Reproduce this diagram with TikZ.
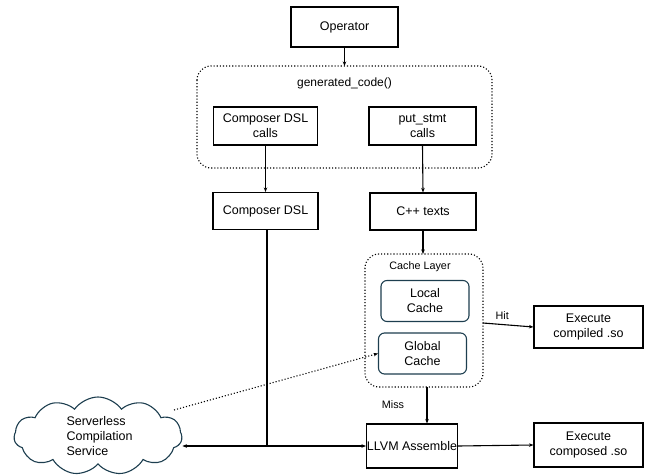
\documentclass[tikz,border=0pt]{standalone}
\usepackage{fontspec}
\setmainfont{Liberation Sans}
\usetikzlibrary{arrows.meta,shapes.symbols}
\definecolor{tealdark}{HTML}{1D3E4F}
\begin{document}
\begin{tikzpicture}[x=1pt,y=-1pt,
  box/.style={draw=black,line width=1.1pt,align=center,font=\fontsize{12.5}{15}\selectfont,inner sep=0pt},
  cachebox/.style={draw=tealdark,line width=1.1pt,rounded corners=6pt,align=center,font=\fontsize{12.5}{15}\selectfont,inner sep=0pt,minimum width=88pt,minimum height=41pt},
  group/.style={draw=black,dotted,line width=1.1pt,rounded corners=14pt},
  small/.style={font=\fontsize{10.8}{13}\selectfont},
  arr/.style={-{Stealth[length=4.5pt,width=3.5pt]},line width=1.1pt},
  dotarr/.style={-{Stealth[length=4.5pt,width=3.5pt]},dotted,line width=1.1pt}]
\useasboundingbox (0,0) rectangle (651,476);

% top of the flow
\node[box,minimum width=107pt,minimum height=40pt] (op) at (344.5,27) {Operator};

% generated_code() group
\draw[group] (197,66) rectangle (492,168);
\coordinate (gtop) at (344.5,66);
\node[small,font=\fontsize{12}{14}\selectfont] (glabel) at (344.5,83) {generated\_code()};
\node[box,minimum width=104pt,minimum height=38pt] (dslcalls) at (265.5,126) {Composer DSL\\calls};
\node[box,minimum width=107pt,minimum height=38pt] (putcalls) at (422.5,126) {put\_stmt\\calls};

\node[box,minimum width=105pt,minimum height=37pt] (dsl) at (265.5,211) {Composer DSL};
\node[box,minimum width=106pt,minimum height=37pt] (cpp) at (423,211.5) {C++ texts};

% cache layer group
\draw[group] (365,254) rectangle (483,387);
\coordinate (ctop) at (423,254);
\coordinate (cright) at (483,323);
\coordinate (cbottom) at (427,387);
\node[small] (clabel) at (420,267) {Cache Layer};
\node[cachebox] (local) at (425,301) {Local\\Cache};
\node[cachebox] (global) at (422.5,353.5) {Global\\Cache};

\node[box,minimum width=109pt,minimum height=42pt] (execc) at (588.5,327) {Execute\\compiled .so};
\node[box,minimum width=91pt,minimum height=44pt] (llvm) at (412,446) {LLVM Assemble};
\node[box,minimum width=109pt,minimum height=44pt] (execp) at (588.5,445) {Execute\\composed .so};

% serverless compilation service
\node[cloud,cloud puffs=11,cloud puff arc=110,aspect=2.2,draw=tealdark,line width=1.1pt,
      minimum width=168pt,minimum height=78pt,inner sep=0pt] (cloud) at (98,436) {};
\node[align=left,font=\fontsize{12.5}{15}\selectfont,anchor=west] (cloudtext) at (63,436) {Serverless\\Compilation\\Service};

% connectors
\draw[arr] (op.south) -- (gtop);
\draw[arr] (dslcalls.south) -- (dsl.north);
\draw[arr] (putcalls.south) -- (cpp.north);
\draw[arr] (cpp.south) -- (ctop);
\draw[arr] (cright) -- node[small,above,pos=0.38,yshift=1pt] (hit) {Hit} (execc.west);
\draw[arr] (cbottom) -- node[small,left,pos=0.5,xshift=-19pt,yshift=1pt] (miss) {Miss} (cbottom |- llvm.north);
\coordinate (junc) at (267,446);
\draw[line width=1.1pt] (dsl.south -| junc) -- (junc);
\draw[arr] (junc) -- (cloud.east |- junc);
\draw[arr] (junc) -- (llvm.west);
\draw[arr] (llvm.east) -- (execp.west);
\coordinate (cloudout) at (174,410);
\draw[dotarr] (cloudout) -- (global.west);
\end{tikzpicture}
\end{document}
